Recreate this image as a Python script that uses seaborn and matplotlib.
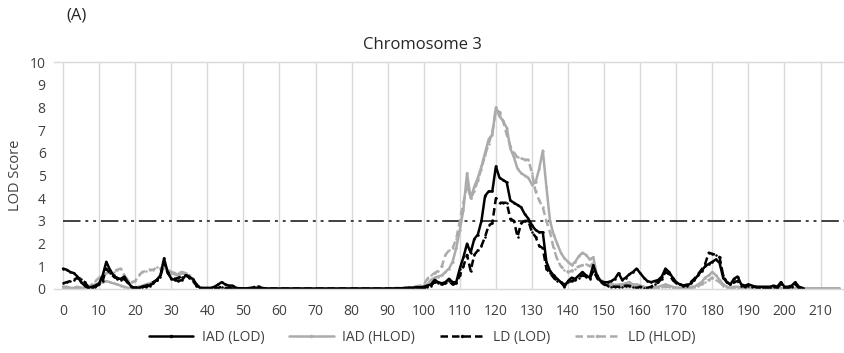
import numpy as np
import pandas as pd
import matplotlib
matplotlib.use("Agg")
import matplotlib.pyplot as plt
from matplotlib.lines import Line2D
import seaborn as sns

# ---------------- data ----------------
position_cM = list(range(0, 216))

iad_lod = [
    0.9, 0.85, 0.75, 0.7, 0.55, 0.3, 0.15, 0.05, 0.1, 0.15,
    0.25, 0.6, 1.2, 0.85, 0.6, 0.45, 0.45, 0.55, 0.3, 0.1,
    0.05, 0.05, 0.1, 0.1, 0.15, 0.25, 0.4, 0.6, 1.35, 0.75,
    0.45, 0.4, 0.35, 0.4, 0.6, 0.5, 0.45, 0.2, 0.05, 0.05,
    0.05, 0.05, 0.1, 0.2, 0.3, 0.2, 0.15, 0.15, 0.05, 0.03,
    0.03, 0.03, 0.03, 0.03, 0.05, 0.03, 0.03, 0.02, 0.02, 0.02,
    0.02, 0.02, 0.02, 0.02, 0.02, 0.02, 0.02, 0.02, 0.02, 0.02,
    0.02, 0.02, 0.02, 0.02, 0.02, 0.02, 0.02, 0.02, 0.02, 0.02,
    0.02, 0.02, 0.02, 0.02, 0.02, 0.02, 0.02, 0.02, 0.02, 0.02,
    0.02, 0.02, 0.03, 0.03, 0.03, 0.05, 0.05, 0.05, 0.08, 0.08,
    0.1, 0.15, 0.2, 0.4, 0.3, 0.25, 0.3, 0.45, 0.3, 0.3,
    0.9, 1.4, 2.0, 1.6, 2.2, 2.4, 3.0, 4.1, 4.3, 4.3,
    5.4, 4.9, 4.8, 4.7, 3.9, 3.8, 3.7, 3.6, 3.3, 3.1,
    2.8, 2.6, 2.5, 2.5, 1.2, 0.8, 0.6, 0.45, 0.3, 0.1,
    0.35, 0.5, 0.45, 0.6, 0.75, 0.6, 0.5, 1.05, 0.6, 0.35,
    0.3, 0.3, 0.35, 0.45, 0.7, 0.4, 0.5, 0.65, 0.75, 0.9,
    0.7, 0.5, 0.35, 0.3, 0.35, 0.4, 0.55, 0.9, 0.75, 0.5,
    0.3, 0.2, 0.15, 0.15, 0.25, 0.4, 0.6, 0.8, 1.0, 1.1,
    1.2, 1.3, 1.15, 0.5, 0.3, 0.2, 0.45, 0.55, 0.2, 0.15,
    0.2, 0.15, 0.1, 0.1, 0.1, 0.1, 0.1, 0.15, 0.1, 0.3,
    0.1, 0.1, 0.15, 0.3, 0.1, 0.05, np.nan, np.nan, np.nan, np.nan,
    np.nan, np.nan, np.nan, np.nan, np.nan, np.nan,
]

ld_lod = [
    0.25, 0.3, 0.35, 0.4, 0.5, 0.45, 0.3, 0.1, 0.05, 0.1,
    0.2, 0.35, 0.9, 0.7, 0.55, 0.5, 0.4, 0.45, 0.25, 0.1,
    0.05, 0.1, 0.1, 0.15, 0.2, 0.3, 0.4, 0.55, 1.2, 0.7,
    0.5, 0.45, 0.5, 0.55, 0.6, 0.55, 0.35, 0.15, 0.05, 0.03,
    0.03, 0.03, 0.05, 0.05, 0.1, 0.05, 0.05, 0.03, 0.03, 0.03,
    0.03, 0.03, 0.05, 0.08, 0.15, 0.05, 0.03, 0.02, 0.02, 0.02,
    0.02, 0.02, 0.02, 0.02, 0.02, 0.02, 0.02, 0.02, 0.02, 0.02,
    0.02, 0.02, 0.02, 0.02, 0.02, 0.02, 0.02, 0.02, 0.02, 0.02,
    0.02, 0.02, 0.02, 0.02, 0.02, 0.02, 0.02, 0.02, 0.02, 0.02,
    0.02, 0.02, 0.02, 0.03, 0.03, 0.03, 0.05, 0.05, 0.05, 0.05,
    0.05, 0.1, 0.15, 0.3, 0.25, 0.2, 0.25, 0.35, 0.2, 0.25,
    0.6, 1.0, 1.5, 0.8, 1.5, 1.7, 1.9, 2.3, 2.8, 2.9,
    4.0, 3.8, 3.8, 3.8, 3.1, 3.0, 2.3, 2.9, 3.0, 3.0,
    2.5, 2.3, 1.9, 1.8, 0.9, 0.7, 0.5, 0.35, 0.3, 0.2,
    0.3, 0.35, 0.4, 0.5, 0.6, 0.55, 0.45, 0.8, 0.5, 0.3,
    0.2, 0.15, 0.1, 0.1, 0.1, 0.1, 0.15, 0.15, 0.1, 0.05,
    0.1, 0.05, 0.05, 0.1, 0.2, 0.3, 0.45, 0.75, 0.65, 0.4,
    0.25, 0.2, 0.15, 0.2, 0.3, 0.45, 0.65, 0.85, 1.1, 1.6,
    1.55, 1.5, 1.4, 0.6, 0.3, 0.2, 0.3, 0.35, 0.15, 0.1,
    0.15, 0.1, 0.1, 0.05, 0.05, 0.05, 0.05, 0.1, 0.05, 0.2,
    0.05, 0.05, 0.1, 0.2, 0.05, 0.03, np.nan, np.nan, np.nan, np.nan,
    np.nan, np.nan, np.nan, np.nan, np.nan, np.nan,
]

iad_hlod = [
    0.1, 0.1, 0.05, 0.05, 0.1, 0.05, 0.05, 0.1, 0.15, 0.2,
    0.25, 0.3, 0.35, 0.3, 0.25, 0.2, 0.15, 0.1, 0.05, 0.05,
    0.05, 0.1, 0.15, 0.2, 0.25, 0.3, 0.4, 0.6, 1.0, 0.8,
    0.7, 0.65, 0.6, 0.7, 0.65, 0.6, 0.4, 0.2, 0.05, 0.03,
    0.03, 0.03, 0.03, 0.03, 0.04, 0.04, 0.03, 0.03, 0.03, 0.03,
    0.03, 0.03, 0.04, 0.06, 0.1, 0.05, 0.03, 0.03, 0.03, 0.03,
    0.03, 0.03, 0.03, 0.03, 0.03, 0.03, 0.03, 0.03, 0.03, 0.03,
    0.03, 0.03, 0.03, 0.03, 0.03, 0.03, 0.03, 0.03, 0.03, 0.03,
    0.03, 0.03, 0.03, 0.03, 0.03, 0.03, 0.03, 0.03, 0.03, 0.03,
    0.03, 0.03, 0.03, 0.04, 0.04, 0.05, 0.05, 0.06, 0.07, 0.08,
    0.1, 0.2, 0.4, 0.5, 0.55, 0.6, 0.75, 0.9, 1.2, 1.8,
    2.6, 3.5, 5.1, 4.0, 4.5, 4.9, 5.4, 6.0, 6.6, 6.8,
    8.0, 7.6, 7.4, 7.1, 6.2, 5.8, 5.3, 5.1, 5.0, 4.9,
    4.6, 4.7, 5.3, 6.1, 4.5, 3.0, 2.4, 2.0, 1.6, 1.35,
    1.2, 1.05, 1.2, 1.45, 1.6, 1.5, 1.3, 1.4, 0.6, 0.4,
    0.3, 0.2, 0.15, 0.15, 0.2, 0.2, 0.25, 0.3, 0.2, 0.2,
    0.15, 0.1, 0.05, 0.05, 0.1, 0.1, 0.15, 0.2, 0.15, 0.1,
    0.05, 0.05, 0.05, 0.05, 0.1, 0.1, 0.2, 0.3, 0.5, 0.6,
    0.75, 0.6, 0.4, 0.2, 0.1, 0.05, 0.1, 0.1, 0.05, 0.05,
    0.03, 0.03, 0.03, 0.03, 0.03, 0.03, 0.03, 0.05, 0.03, 0.03,
    0.03, 0.03, 0.03, 0.03, 0.03, 0.03, 0.03, 0.03, 0.03, 0.03,
    0.03, 0.03, 0.03, 0.03, 0.03, 0.03,
]

ld_hlod = [
    0.05, 0.05, 0.05, 0.05, 0.05, 0.05, 0.05, 0.1, 0.2, 0.35,
    0.5, 0.6, 0.7, 0.75, 0.75, 0.85, 0.9, 0.6, 0.4, 0.3,
    0.35, 0.6, 0.75, 0.8, 0.85, 0.85, 0.95, 0.9, 1.0, 0.85,
    0.75, 0.7, 0.7, 0.75, 0.7, 0.6, 0.4, 0.2, 0.05, 0.03,
    0.03, 0.03, 0.03, 0.03, 0.04, 0.04, 0.03, 0.03, 0.03, 0.03,
    0.03, 0.03, 0.04, 0.05, 0.08, 0.05, 0.03, 0.03, 0.03, 0.03,
    0.03, 0.03, 0.03, 0.03, 0.03, 0.03, 0.03, 0.03, 0.03, 0.03,
    0.03, 0.03, 0.03, 0.03, 0.03, 0.03, 0.03, 0.03, 0.03, 0.03,
    0.03, 0.03, 0.03, 0.03, 0.03, 0.03, 0.03, 0.03, 0.03, 0.03,
    0.03, 0.03, 0.04, 0.05, 0.05, 0.06, 0.08, 0.1, 0.12, 0.15,
    0.2, 0.45, 0.6, 0.7, 0.8, 1.0, 1.5, 1.7, 1.8, 2.2,
    3.0, 3.8, 4.6, 4.0, 4.3, 4.8, 5.3, 5.9, 6.4, 6.9,
    7.9, 7.8, 7.4, 6.8, 6.3, 6.0, 5.8, 5.75, 5.7, 5.7,
    5.1, 4.3, 3.9, 3.6, 3.0, 2.5, 1.8, 1.3, 1.0, 0.85,
    0.75, 0.8, 0.9, 1.0, 1.05, 1.1, 1.0, 1.15, 0.5, 0.35,
    0.3, 0.25, 0.2, 0.2, 0.15, 0.15, 0.1, 0.1, 0.1, 0.1,
    0.1, 0.05, 0.05, 0.05, 0.05, 0.05, 0.1, 0.1, 0.1, 0.05,
    0.05, 0.05, 0.05, 0.05, 0.05, 0.1, 0.15, 0.2, 0.3, 0.4,
    0.5, 0.4, 0.3, 0.15, 0.1, 0.05, 0.05, 0.05, 0.03, 0.03,
    0.03, 0.03, 0.03, 0.03, 0.03, 0.03, 0.03, 0.03, 0.03, 0.03,
    0.03, 0.03, 0.03, 0.03, 0.03, 0.03, 0.03, 0.03, 0.03, 0.03,
    0.03, 0.03, 0.03, 0.03, 0.03, 0.03,
]

series_names = ["IAD (LOD)", "IAD (HLOD)", "LD (LOD)", "LD (HLOD)"]
threshold = 3
x_ticks = list(range(0, 211, 10))
y_ticks = list(range(0, 11))

# ---------------- styling ----------------
sns.set_theme(style="white")
plt.rcParams["font.family"] = ["Open Sans", "DejaVu Sans"]

BLACK = "#000000"
GRAY = "#ababab"
TXT = "#404040"
styles = {
    "IAD (LOD)": dict(color=BLACK, ls="-"),
    "IAD (HLOD)": dict(color=GRAY, ls="-"),
    "LD (LOD)": dict(color=BLACK, ls=(0, (3, 1.6))),
    "LD (HLOD)": dict(color=GRAY, ls=(0, (3, 1.6))),
}
values = {
    "IAD (LOD)": iad_lod,
    "IAD (HLOD)": iad_hlod,
    "LD (LOD)": ld_lod,
    "LD (HLOD)": ld_hlod,
}

fig = plt.figure(figsize=(8.44, 3.53), dpi=100)
ax = fig.add_axes([54 / 844, 64 / 353, (844 - 54) / 844, 227 / 353])

draw_order = ["IAD (HLOD)", "LD (HLOD)", "LD (LOD)", "IAD (LOD)"]
for name in draw_order:
    df = pd.DataFrame({"pos": position_cM, "lod": values[name]}).dropna()
    st = styles[name]
    sns.lineplot(data=df, x="pos", y="lod", ax=ax, color=st["color"],
                 linestyle=st["ls"], linewidth=1.8, marker="o",
                 markersize=1.8, markeredgewidth=0, estimator=None,
                 legend=False)

# threshold line
ax.axhline(threshold, xmin=(0 + 2.5) / 219, xmax=1, color="#404040", lw=1.4,
           ls=(0, (9, 2.5, 1.5, 2.5, 1.5, 2.5)), zorder=1)

ax.set_xlim(-2.5, 216.5)
ax.set_ylim(0, 10)
ax.set_xticks(x_ticks)
ax.set_yticks(y_ticks)
ax.tick_params(axis="y", labelsize=10, colors=TXT, length=0, pad=6)
ax.tick_params(axis="x", labelsize=10, colors=TXT, length=0, pad=11)
ax.xaxis.grid(True, color="#d9d9d9", lw=1)
ax.yaxis.grid(False)
ax.set_axisbelow(True)
for s in ["left", "right"]:
    ax.spines[s].set_visible(False)
for s in ["top", "bottom"]:
    ax.spines[s].set_color("#d9d9d9")
    ax.spines[s].set_linewidth(1)
ax.set_xlabel("")
ax.set_ylabel("LOD Score", fontsize=10.5, color=TXT, labelpad=5)

fig.text(422 / 844, 1 - 45 / 353, "Chromosome 3", ha="center", va="center",
         fontsize=12, color="#262626")
fig.text(66 / 844, 1 - 15 / 353, "(A)", ha="left", va="center",
         fontsize=12, color="#262626")

handles = []
for name in series_names:
    st = styles[name]
    handles.append(Line2D([0], [0], color=st["color"], ls=st["ls"], lw=1.8,
                          marker="o", markersize=2.5, markeredgewidth=0))
fig.legend(handles, series_names, loc="center", bbox_to_anchor=(0.5, 16 / 353),
           ncol=4, frameon=False, fontsize=10, handlelength=3.2,
           columnspacing=1.8, handletextpad=0.6, labelcolor=TXT)

fig.savefig("out.png", dpi=100)
